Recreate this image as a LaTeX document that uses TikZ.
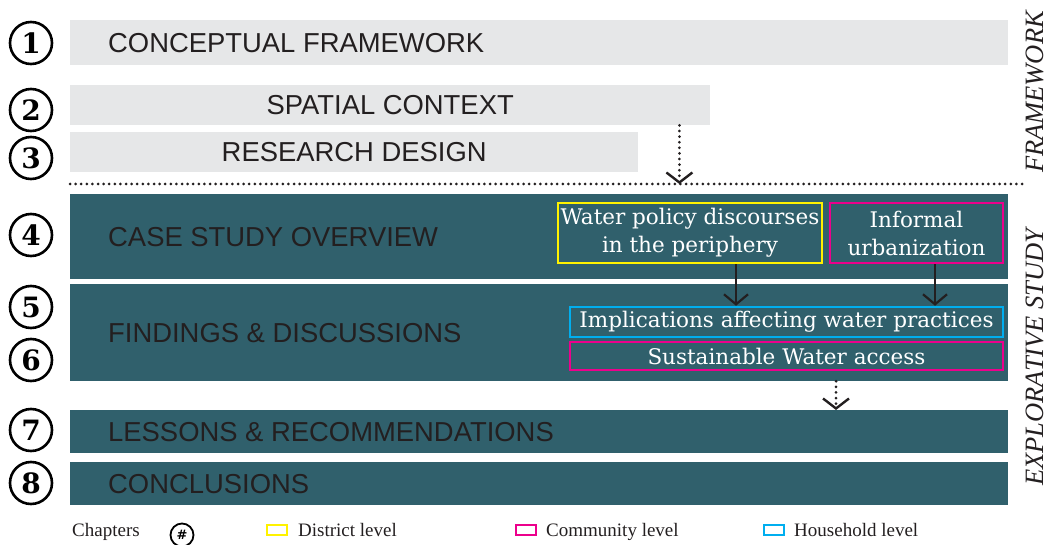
\documentclass[tikz,border=0pt]{standalone}
\usepackage{fontspec}
\setmainfont{Liberation Serif}
\setsansfont{Liberation Sans}
\newfontfamily\caixafont{DejaVu Serif}
\usetikzlibrary{positioning,arrows.meta}

\definecolor{azulpetroleo}{RGB}{48,96,108}
\definecolor{cinzaclaro}{RGB}{230,231,232}
\definecolor{amarelo}{RGB}{255,242,0}
\definecolor{rosa}{RGB}{236,0,140}
\definecolor{ciano}{RGB}{0,174,239}
\definecolor{textoescuro}{RGB}{35,31,32}

\begin{document}
\begin{tikzpicture}[
        x=1pt, y=-1pt,
        numcap/.style={circle, draw=black, line width=2.6pt, minimum size=42pt, inner sep=0pt, font=\caixafont\bfseries\fontsize{28}{28}\selectfont},
        numpeq/.style={circle, draw=black, line width=1.8pt, minimum size=23pt, inner sep=0pt, font=\caixafont\bfseries\fontsize{13}{13}\selectfont},
        barcinza/.style={fill=cinzaclaro, anchor=north west, inner sep=0pt, text=textoescuro, font=\sffamily\fontsize{27.4}{27.4}\selectfont},
        barazul/.style={fill=azulpetroleo, anchor=north west, inner sep=0pt},
        bartexto/.style={inner sep=0pt, anchor=west, text=textoescuro, font=\sffamily\fontsize{27.4}{27.4}\selectfont},
        caixa/.style={draw=#1, line width=2.5pt, inner sep=0pt, text=white, align=center, font=\caixafont\fontsize{21.5}{28}\selectfont},
        legquad/.style={draw=#1, line width=2.5pt, minimum width=20pt, minimum height=10pt, inner sep=0pt},
        legtexto/.style={inner sep=0pt, anchor=base west, text=textoescuro, font=\fontsize{19}{19}\selectfont},
        rotulo/.style={rotate=90, inner sep=0pt, text=textoescuro, font=\itshape\fontsize{26.5}{26.5}\selectfont},
        seta/.style={draw=textoescuro, line width=2.2pt, -{Straight Barb[length=10pt, width=24pt]}},
        pontos/.style={draw=textoescuro, line width=3pt, line cap=round, dash pattern=on 0pt off 5.6pt},
        setapontos/.style={pontos, -{Straight Barb[length=10pt, width=26pt, line width=2.4pt]}}
        ]
        \useasboundingbox (0,0) rectangle (1048,545);

        % framework
        \node [barcinza, minimum width=938pt, minimum height=45pt] (b1) at (70,20) {};
        \node [bartexto, right=38pt of b1.west] (t1) {CONCEPTUAL FRAMEWORK};
        \node [barcinza, minimum width=640pt, minimum height=40pt] (b2) at (70,85) {SPATIAL CONTEXT};
        \node [barcinza, minimum width=568pt, minimum height=40pt] (b3) at (70,132) {RESEARCH DESIGN};

        \coordinate (sepL) at (70,184);
        \coordinate (sepR) at (1022,184);
        \draw[pontos] (sepL) -- (sepR);
        \draw[setapontos] ([xshift=-31pt]b2.south east) -- ([xshift=-31pt]b2.south east |- sepL);

        % explorative study
        \node [barazul, minimum width=938pt, minimum height=85pt] (b4) at (70,194) {};
        \node [bartexto, right=38pt of b4.west] (t4) {CASE STUDY OVERVIEW};
        \node [barazul, minimum width=938pt, minimum height=97pt] (b5) at (70,284) {};
        \node [bartexto, right=38pt of b5.west] (t5) {FINDINGS \& DISCUSSIONS};
        \node [barazul, minimum width=938pt, minimum height=43pt] (b7) at (70,410) {};
        \node [bartexto, right=38pt of b7.west] (t7) {LESSONS \& RECOMMENDATIONS};
        \node [barazul, minimum width=938pt, minimum height=43pt] (b8) at (70,462) {};
        \node [bartexto, right=38pt of b8.west] (t8) {CONCLUSIONS};

        \node [caixa=amarelo, minimum width=264pt, minimum height=60pt] (distrito) at (690,233) {Water policy discourses\\in the periphery};
        \node [caixa=rosa, minimum width=173pt, minimum height=60pt] (informal) at (916.5,233) {Informal\\urbanization};
        \node [caixa=ciano, minimum width=433pt, minimum height=30pt] (implic) at (786.5,322) {Implications affecting water practices};
        \node [caixa=rosa, minimum width=433pt, minimum height=28pt] (acesso) at (786.5,356) {Sustainable Water access};

        \draw[seta] ([xshift=46pt]distrito.south) -- ([xshift=46pt]distrito.south |- implic.north);
        \draw[seta] ([xshift=18.5pt]informal.south) -- ([xshift=18.5pt]informal.south |- implic.north);

        \draw[setapontos] ([xshift=49.5pt, yshift=-10pt]acesso.south) -- ([xshift=49.5pt]acesso.south |- b7.north);

        % chapter numbers
        \node [numcap] (n1) at (31,43) {1};
        \node [numcap] (n2) at (31,110) {2};
        \node [numcap] (n3) at (31,158) {3};
        \node [numcap] (n4) at (31,235) {4};
        \node [numcap] (n5) at (31,307) {5};
        \node [numcap] (n6) at (31,360) {6};
        \node [numcap] (n7) at (31,430) {7};
        \node [numcap] (n8) at (31,483) {8};

        \node [rotulo] (fw) at (1035,92) {FRAMEWORK};
        \node [rotulo] (es) at (1035,357) {EXPLORATIVE STUDY};

        % legend
        \node [legtexto] (lcap) at (72,536) {Chapters};
        \node [numpeq] (lnum) at (182,535) {\#};
        \node [legquad=amarelo] (q1) at (277,530) {};
        \node [legtexto] (l1) at (298,536) {District level};
        \node [legquad=rosa] (q2) at (526,530) {};
        \node [legtexto] (l2) at (546,536) {Community level};
        \node [legquad=ciano] (q3) at (774,530) {};
        \node [legtexto] (l3) at (794,536) {Household level};
    \end{tikzpicture}
\end{document}
